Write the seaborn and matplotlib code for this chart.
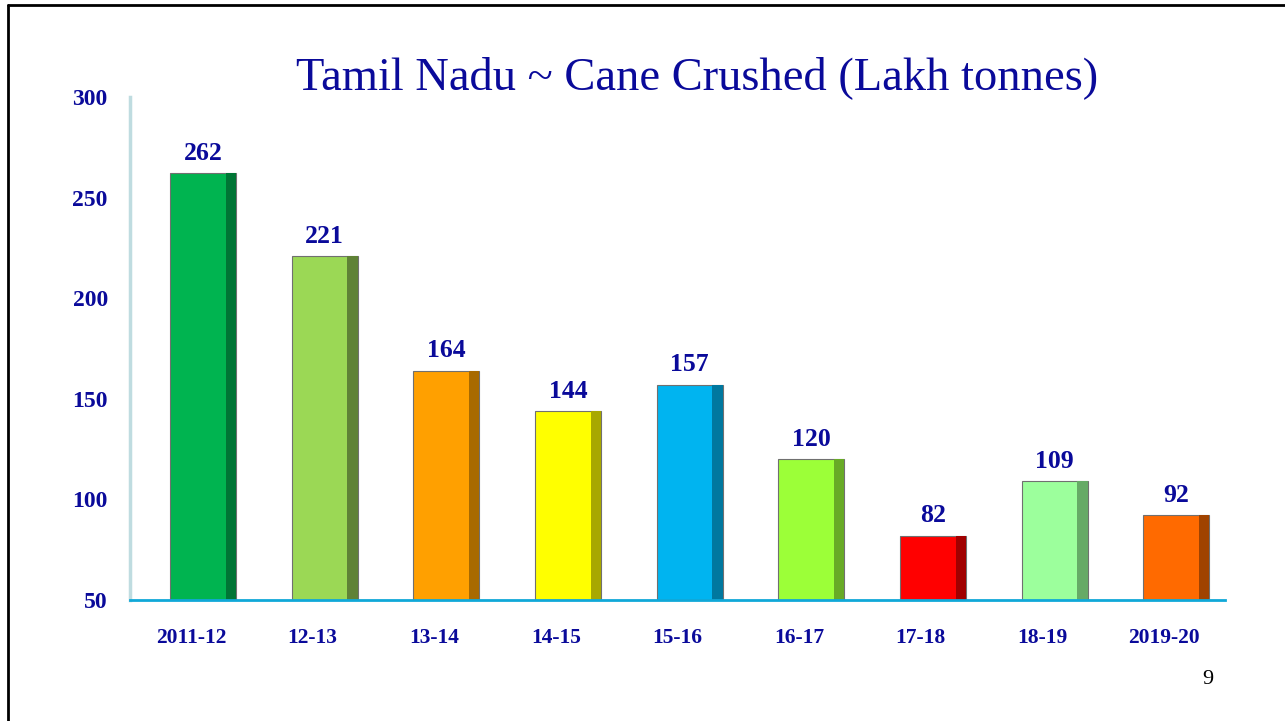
import pandas as pd
import seaborn as sns
import matplotlib.pyplot as plt
from matplotlib.patches import Rectangle
from matplotlib.lines import Line2D

# Data
seasons = ['2011-12', '12-13', '13-14', '14-15', '15-16', '16-17', '17-18', '18-19', '2019-20']
cane_crushed = [262, 221, 164, 144, 157, 120, 82, 109, 92]
face_colors = ['#00B450', '#9BD855', '#FFA000', '#FFFF00', '#00B4F0',
               '#9CFF38', '#FF0000', '#9CFF9C', '#FF6A00']
side_colors = ['#007535', '#5F8236', '#A86A00', '#A8A800', '#00789F',
               '#68AA26', '#A00000', '#66AA66', '#A04300']

df = pd.DataFrame({'Season': seasons, 'Cane': cane_crushed})

sns.set_theme(style='white')
plt.rcParams['font.family'] = ['Liberation Serif', 'DejaVu Serif']
navy = '#0A0A9A'

fig = plt.figure(figsize=(12.85, 7.21), dpi=100)
ax = fig.add_axes([130 / 1285, 1 - 600 / 721, 1095 / 1285, 503 / 721])

sns.barplot(data=df, x='Season', y='Cane', hue='Season', palette=face_colors,
            saturation=1, width=0.54, legend=False, ax=ax,
            edgecolor='#707070', linewidth=0.8)

# bars sit a little right of their labels, with a darker right side (3D look)
shift = 0.1
side_w = 0.085
for patch, sc in zip(ax.patches, side_colors):
    patch.set_x(patch.get_x() + shift)
    x0 = patch.get_x() + patch.get_width() - side_w
    ax.add_patch(Rectangle((x0, 0), side_w, patch.get_height(), facecolor=sc,
                           edgecolor='none', zorder=patch.get_zorder() + 0.1))

for cont in ax.containers:
    ax.bar_label(cont, padding=6, fontsize=18.5, fontweight='bold', color=navy)

ax.set_ylim(50, 300)
ax.set_xlim(-0.5, 8.5)
ax.set_yticks([50, 100, 150, 200, 250, 300])
ax.set_xlabel('')
ax.set_ylabel('')
ax.tick_params(axis='y', length=0, pad=16, labelsize=17, labelcolor=navy)
ax.tick_params(axis='x', length=0, pad=20, labelsize=15.5, labelcolor=navy)
for lab in ax.get_xticklabels() + ax.get_yticklabels():
    lab.set_fontweight('bold')

sns.despine(ax=ax, top=True, right=True)
ax.spines['left'].set_color('#BFDCE0')
ax.spines['left'].set_linewidth(2.5)
ax.spines['bottom'].set_color('#10A8D8')
ax.spines['bottom'].set_linewidth(2)

fig.text(697 / 1285, 1 - 78 / 721, 'Tamil Nadu ~ Cane Crushed (Lakh tonnes)',
         ha='center', va='center', fontsize=33.5, color=navy)
fig.text(1208 / 1285, 1 - 680 / 721, '9', ha='center', va='center',
         fontsize=16, color='black')

# slide frame
fig.add_artist(Line2D([8 / 1285, 8 / 1285], [0, 1 - 5 / 721], color='black', lw=2))
fig.add_artist(Line2D([8 / 1285, 1], [1 - 5 / 721, 1 - 5 / 721], color='black', lw=2))

fig.savefig('out.png', dpi=100)
